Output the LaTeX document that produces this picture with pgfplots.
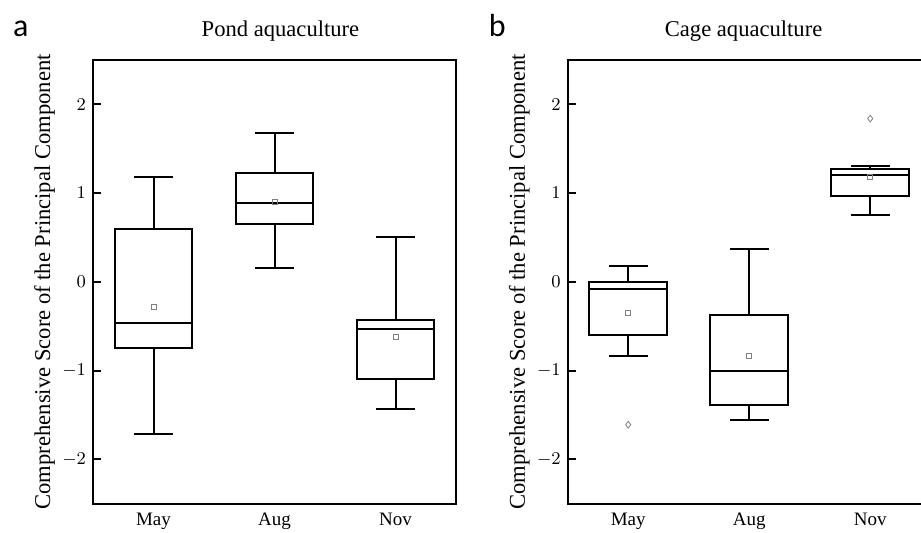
\documentclass[border=0pt]{standalone}
\usepackage{fontspec}
\setmainfont{Liberation Serif}
\newfontfamily\panelfont{Carlito}
\usepackage{pgfplots}
\usepgfplotslibrary{statistics}
\pgfplotsset{compat=1.18}

% 1 px of the reference = 0.5pt
\pgfplotsset{
  panel/.style={
    scale only axis, width=181.5pt, height=221.85pt,
    xmin=0.5, xmax=3.5, ymin=-2.5, ymax=2.5,
    xtick={1,2,3}, xticklabels={May,Aug,Nov},
    ytick={-2,-1,0,1,2},
    x tick style={draw=none},
    ytick pos=left, tick align=inside, major tick length=4pt,
    y tick style={line width=1pt, black},
    axis line style={line width=1pt},
    yticklabel style={font=\fontsize{8.8}{10}\selectfont},
    xticklabel style={font=\fontsize{9.5}{11}\selectfont, yshift=-1pt},
    ylabel={Comprehensive Score of the Principal Component},
    ylabel style={font=\fontsize{11.3}{13}\selectfont, at={(axis description cs:-0.118,0.5)}, anchor=base},
    title style={font=\fontsize{11.3}{13}\selectfont, at={(0.5,1)}, anchor=base, yshift=5.85pt},
    clip=false,
    boxplot/draw direction=y,
    boxplot/box extend=0.64,
    boxplot/whisker extend=0.32,
  },
  bx/.style={black, line width=1pt, solid, mark=diamond, mark size=1.7pt,
    mark options={gray, line width=0.4pt, fill=none}},
  avg/.style={only marks, mark=square, mark size=1.25pt,
    mark options={gray, line width=0.4pt, fill=none}},
}

\begin{document}
\begin{tikzpicture}
\begin{axis}[panel, at={(46.5pt,14.15pt)}, anchor=south west,
  title={Pond aquaculture}, title style={xshift=3pt}]
\addplot[bx, boxplot prepared={draw position=1, lower whisker=-1.72, lower quartile=-0.75,
  median=-0.46, upper quartile=0.60, upper whisker=1.18}] coordinates {};
\addplot[bx, boxplot prepared={draw position=2, lower whisker=0.16, lower quartile=0.65,
  median=0.89, upper quartile=1.23, upper whisker=1.68}] coordinates {};
\addplot[bx, boxplot prepared={draw position=3, lower whisker=-1.43, lower quartile=-1.10,
  median=-0.53, upper quartile=-0.43, upper whisker=0.50}] coordinates {};
% means
\addplot[avg] coordinates {(1,-0.28) (2,0.90) (3,-0.62)};
\node[anchor=base west, font=\panelfont\fontsize{16}{18}\selectfont, inner sep=0pt]
  at (axis description cs:-0.221,1.0525) {a};
\end{axis}

\begin{axis}[panel, at={(283.85pt,14.15pt)}, anchor=south west,
  title={Cage aquaculture}, title style={xshift=-2.8pt}]
\addplot[bx, boxplot prepared={draw position=1, lower whisker=-0.83, lower quartile=-0.60,
  median=-0.08, upper quartile=0.00, upper whisker=0.18}]
  table[row sep=\\, y index=0] {-1.61\\};
\addplot[bx, boxplot prepared={draw position=2, lower whisker=-1.56, lower quartile=-1.39,
  median=-1.00, upper quartile=-0.37, upper whisker=0.37}] coordinates {};
\addplot[bx, boxplot prepared={draw position=3, lower whisker=0.75, lower quartile=0.97,
  median=1.20, upper quartile=1.27, upper whisker=1.30}]
  table[row sep=\\, y index=0] {1.84\\};
% means
\addplot[avg] coordinates {(1,-0.35) (2,-0.84) (3,1.18)};
\node[anchor=base west, font=\panelfont\fontsize{16}{18}\selectfont, inner sep=0pt]
  at (axis description cs:-0.2186,1.0525) {b};
\end{axis}
\pgfresetboundingbox
\useasboundingbox (0,0) rectangle (460.5pt,266pt);
\end{tikzpicture}
\end{document}
